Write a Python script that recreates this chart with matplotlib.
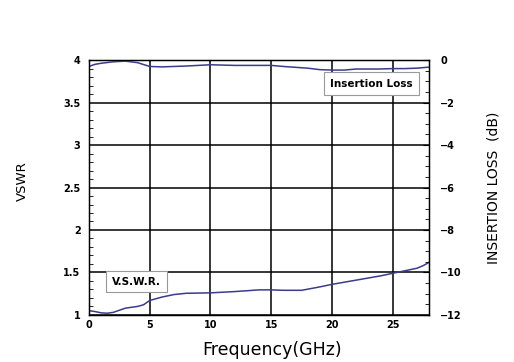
import matplotlib
matplotlib.use("Agg")
import matplotlib.pyplot as plt
from matplotlib.ticker import MultipleLocator

freq_vswr = [0, 0.5, 1, 1.5, 2, 3, 4, 4.5, 5, 6, 7, 8, 10, 12, 14, 15, 16, 17.5, 19, 20, 22, 24, 25, 26, 27, 27.5, 28]
vswr = [1.05, 1.04, 1.025, 1.02, 1.03, 1.08, 1.1, 1.12, 1.17, 1.21, 1.24, 1.255, 1.26, 1.275, 1.295, 1.295, 1.29, 1.29, 1.33, 1.36, 1.41, 1.46, 1.49, 1.52, 1.55, 1.58, 1.62]

freq_il = [0, 0.5, 1, 2, 3, 4, 5, 6, 8, 10, 12, 14, 15, 16, 18, 19, 20, 21, 22, 24, 25, 26, 27, 28]
il = [-0.3, -0.2, -0.15, -0.08, -0.05, -0.12, -0.3, -0.32, -0.28, -0.22, -0.25, -0.25, -0.25, -0.3, -0.38, -0.45, -0.47, -0.47, -0.42, -0.42, -0.4, -0.4, -0.38, -0.33]

x_ticks = [0, 5, 10, 15, 20, 25]
y_ticks = [1, 1.5, 2, 2.5, 3, 3.5, 4]
y_tick_labels = ["1", "1.5", "2", "2.5", "3", "3.5", "4"]
il_ticks = [0, -2, -4, -6, -8, -10, -12]

line_color = "#3b3b8c"

fig = plt.figure(figsize=(5.14, 3.62), dpi=100)
ax = fig.add_axes([0.173, 0.130, 0.662, 0.704])
ax.plot(freq_vswr, vswr, color=line_color, lw=1.1)
ax.set_xlim(0, 28)
ax.set_ylim(1, 4)
ax.set_xticks(x_ticks)
ax.set_yticks(y_ticks)
ax.set_yticklabels(y_tick_labels)
ax.yaxis.set_minor_locator(MultipleLocator(0.1))
ax.grid(True, which="major", color="black", lw=1.1)
ax.tick_params(axis="x", length=0, labelsize=7, pad=4)
ax.tick_params(axis="y", which="major", length=0, labelsize=7, pad=6)
ax.tick_params(axis="y", which="minor", direction="in", length=3, width=0.6)
for lab in ax.get_xticklabels() + ax.get_yticklabels():
    lab.set_fontweight("bold")
for s in ax.spines.values():
    s.set_linewidth(1.0)

ax2 = ax.twinx()
ax2.plot(freq_il, il, color=line_color, lw=1.1)
ax2.set_ylim(-12, 0)
ax2.set_yticks(il_ticks)
ax2.set_yticklabels(["0", "\u22122", "\u22124", "\u22126", "\u22128", "\u221210", "\u221212"])
ax2.yaxis.set_minor_locator(MultipleLocator(0.5))
ax2.tick_params(axis="y", which="major", direction="in", length=4, labelsize=7, pad=8)
ax2.tick_params(axis="y", which="minor", direction="in", length=3, width=0.6)
for lab in ax2.get_yticklabels():
    lab.set_fontweight("bold")

ax.text(0.83, 0.908, "Insertion Loss", transform=ax.transAxes, ha="center", va="center",
        fontsize=7.5, fontweight="bold",
        bbox=dict(boxstyle="square,pad=0.6", fc="white", ec="#999999", lw=0.8))
ax.text(0.14, 0.131, "V.S.W.R.", transform=ax.transAxes, ha="center", va="center",
        fontsize=7.5, fontweight="bold",
        bbox=dict(boxstyle="square,pad=0.55", fc="white", ec="#999999", lw=0.8))

fig.text(0.043, 0.50, "VSWR", rotation=90, ha="center", va="center", fontsize=9.5)
fig.text(0.96, 0.48, "INSERTION LOSS  (dB)", rotation=90, ha="center", va="center", fontsize=10)
fig.text(0.53, 0.033, "Frequency(GHz)", ha="center", va="center", fontsize=12.5)

fig.savefig("out.png", dpi=100)
